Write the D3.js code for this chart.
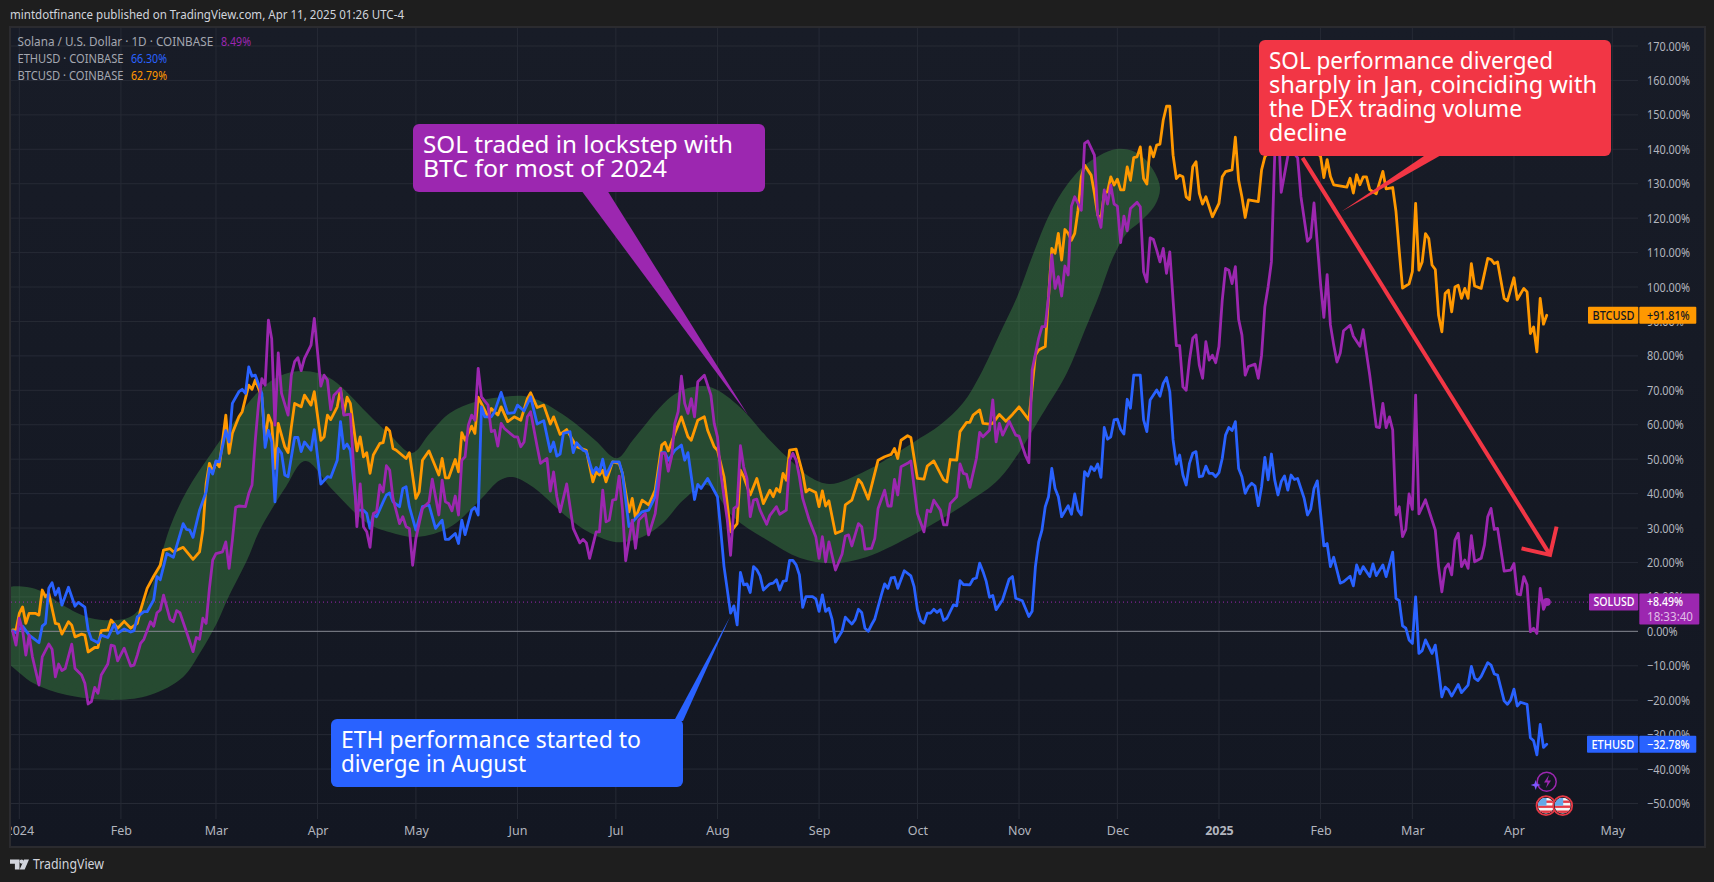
<!DOCTYPE html>
<html>
<head>
<meta charset="utf-8">
<title>SOL vs ETH vs BTC</title>
<script src="https://cdn.jsdelivr.net/npm/d3@7"></script>
<style>
  html, body { margin: 0; padding: 0; background: #1e1e1e; }
  svg { display: block; }
  text { font-family: "Noto Sans", sans-serif; }
</style>
</head>
<body>
<svg id="chart" width="1714" height="882"></svg>
<script>
// Points are [days since 1 Jan 2024, % change]
const btcPoints = [[-2,0.4],[-1,0.4],[0,5.2],[1,7.1],[2,2.3],[3,5.2],[5,5.2],[6,4.7],[7,12],[8,10],[9,11],[11,2.3],[12,2.1],[13,-0.8],[15,2.8],[16,1.8],[17,-1.6],[19,-0.8],[20,-1.1],[21,-6],[23,-4.7],[24,-4.7],[25,0.2],[27,0.4],[28,3.3],[30,0.9],[32,2.9],[34,0.9],[36,2.3],[37,6.2],[39,12.5],[41,16],[43,19.2],[44,23.6],[46,24],[47,23.1],[50,24.4],[53,20.9],[55,23.1],[56,29.4],[57,42.9],[58,48.8],[59,46.3],[60,49.2],[61,47.8],[63,62.8],[64,51.7],[65,57.5],[67,62.3],[68,63.8],[70,71.5],[71,70.3],[72,73],[74,68],[75,55.5],[76,62.8],[77,60.4],[78,47.3],[79,60.4],[81,53.6],[82,51.9],[83,59.4],[84,66.2],[86,65.2],[87,68.6],[89,65.7],[90,69.6],[92,55.5],[93,56.5],[94,62.8],[95,61.5],[97,65.2],[98,70.5],[99,63.3],[100,68],[101,66.2],[103,52.4],[104,56.5],[105,50.7],[106,51.9],[107,45.9],[108,51.2],[110,54.6],[111,54.8],[112,59.2],[113,58.2],[114,53.1],[115,52.6],[118,50.2],[119,51.9],[121,38.6],[122,40.5],[123,49.7],[125,52.4],[128,45.4],[129,50.2],[130,44.6],[131,44.6],[133,49.9],[134,46.3],[135,57.7],[136,55.5],[138,59.6],[139,57.5],[140,68],[143,62.3],[144,64.7],[146,62.8],[147,65.2],[149,60.9],[151,62.3],[153,61.3],[155,67.6],[156,69.3],[158,65],[160,65.7],[162,60.2],[163,62.3],[165,57.2],[167,58.6],[170,53.6],[173,52.6],[175,43.4],[176,46.3],[177,45.4],[178,46.8],[179,43.4],[181,49.2],[183,48.8],[184,45.9],[186,34.7],[187,38.6],[188,32.8],[190,38.1],[192,36.7],[194,41],[196,54.1],[197,54.9],[198,52.4],[200,57.5],[202,62.3],[204,56.5],[205,55.5],[207,61.3],[209,62.3],[210,58.4],[212,53.6],[213,52.6],[215,44.9],[217,28.9],[219,31.3],[220,46.8],[221,44.9],[223,39.6],[225,44.4],[227,37.1],[229,41],[230,39.1],[231,41.5],[232,40.5],[233,45.9],[234,43.9],[235,52.6],[237,52.9],[239,45.9],[240,40.5],[241,41.3],[243,40.3],[244,36.2],[245,40.8],[246,36.4],[247,37.9],[249,28.4],[251,29.2],[252,36.7],[254,38.1],[256,44.1],[257,43],[259,38.4],[262,49.7],[264,50.7],[266,51.4],[267,53.1],[268,50.2],[269,55.5],[271,56.8],[272,56.3],[274,44.4],[276,44.2],[277,48],[279,49.5],[282,44],[283,43.4],[284,49.9],[286,49.7],[287,58],[289,60.7],[290,60.7],[291,62.8],[293,64.3],[294,60.4],[296,60.2],[297,60.4],[299,63],[301,61],[303,63],[305,65.2],[308,61.4],[310,80.2],[311,81.7],[313,82.7],[314,97],[315,111.2],[316,109.8],[317,115.6],[318,107.8],[319,116.7],[320,115.6],[321,113.6],[322,115.6],[323,122.3],[324,132],[325,135.4],[327,132.5],[328,127.2],[329,120.9],[330,120],[331,127.2],[332,127.7],[333,132],[334,129.6],[335,131.3],[336,128.2],[337,128.2],[338,134.9],[339,131],[340,137.6],[341,137.8],[342,140.7],[343,131.5],[344,129.9],[345,140.7],[346,137.8],[347,141.2],[348,141.5],[349,148.5],[350,152.5],[351,152.5],[352,138.3],[353,131.5],[354,132.5],[355,132],[356,126.2],[357,125.4],[358,134.9],[359,136.4],[360,127.2],[361,124.1],[362,126.2],[364,120.4],[366,124.3],[367,132],[368,133.5],[370,134],[371,143.5],[372,131],[373,126.2],[374,120.2],[375,125.3],[378,124.8],[379,134],[380,137.8],[382,140],[385,147],[388,143],[391,143],[394,140],[397,138],[398,131.8],[399,137],[400,132.1],[401,129.7],[405,129],[406,131.6],[407,127.3],[408,132.6],[409,129.7],[410,132],[411,132],[412,128.3],[414,127.1],[416,133.6],[417,128.5],[419,128.9],[420,122],[421,110.4],[422,99.7],[424,100.9],[425,104.5],[426,124.3],[427,104.9],[428,107.3],[429,115.5],[430,114.1],[431,106.4],[432,105.1],[433,91.8],[434,87],[435,98.1],[436,99.1],[437,92.8],[438,100],[439,100.5],[440,96.7],[441,99.6],[442,96.7],[443,106.8],[444,100.3],[446,99.6],[448,108.3],[449,108],[450,106.8],[451,107.3],[453,96.7],[454,96],[456,102.7],[457,96.4],[459,99.6],[460,98.6],[461,86.5],[462,88.4],[463,81.2],[464,96.7],[465,89.2],[466,91.81]];

const ethPoints = [[-2,0.2],[-1,-0.4],[1,1.5],[3,-1.1],[6,-3.3],[7,1.5],[8,2.3],[9,12.5],[10,14.1],[11,10.5],[12,12.5],[13,7.6],[15,12.8],[17,7.3],[18,8.4],[20,7],[21,0.4],[22,-2.3],[24,-3.3],[25,-1.1],[27,-1.8],[29,2.1],[30,-0.6],[32,0.7],[34,-0.2],[35,0.2],[36,4.2],[38,5.7],[39,5.7],[41,9.1],[42,15.9],[43,15],[45,22.6],[47,21.5],[50,31.3],[51,29.6],[52,29.4],[53,27.3],[55,35.2],[57,40.5],[58,47.3],[59,45.7],[60,49.5],[61,49.2],[63,58.3],[64,55],[65,66.2],[67,69.6],[68,70.3],[69,69.1],[70,76.8],[71,74.1],[72,74.4],[74,69.1],[75,53.4],[76,58.4],[77,55],[78,37.6],[79,53.1],[80,51.7],[81,45.4],[82,44.9],[84,56.3],[85,56.3],[86,52.2],[87,55],[89,52.6],[90,58.6],[92,42.8],[94,44.9],[95,44.7],[97,49.7],[98,60.9],[99,53.1],[100,54.4],[101,52.6],[103,35.2],[105,35.2],[106,34.2],[107,29.9],[108,33.8],[109,33.3],[111,37.6],[112,39.6],[113,40.2],[114,37.6],[116,36.2],[117,41.5],[118,42],[119,36.2],[121,29.4],[123,36.2],[125,36.7],[127,29.9],[129,32.3],[130,26.7],[131,26.7],[133,28.4],[134,25.5],[135,32.3],[136,28.1],[138,35.2],[139,36],[140,33.8],[141,65.2],[142,62.3],[144,62.3],[145,63.8],[147,69.4],[149,63.3],[151,63.5],[152,65.7],[154,64],[156,68.1],[158,60.2],[160,61.2],[162,52.2],[163,55],[164,50.9],[165,51.5],[166,57.5],[168,58],[169,51.9],[170,54.8],[172,52.6],[173,52.2],[175,45.9],[176,47.6],[177,46.3],[178,50],[179,45.4],[181,49.2],[183,49.2],[184,45.9],[186,30.4],[188,32.8],[190,34.7],[192,35.2],[194,39.1],[196,51.9],[197,51.9],[198,49.7],[200,52.6],[202,54.1],[203,49.7],[204,51.9],[206,38.3],[207,42.7],[208,41.5],[210,44.4],[213,39.1],[214,29.4],[215,18.8],[217,5.3],[218,7.4],[219,1.9],[220,17.1],[221,13.5],[222,13.8],[223,11.3],[224,18.8],[225,17.9],[226,16.1],[227,12],[229,13.8],[230,14],[231,15],[232,12],[233,14.5],[234,14.7],[235,20.6],[236,20.6],[237,19.3],[238,16.4],[239,7],[240,10.1],[242,10.1],[243,9.4],[244,5.8],[245,10.6],[246,5.8],[247,6.7],[248,3.4],[249,-3.1],[251,0],[252,4.1],[254,2.1],[255,3.4],[256,6.4],[257,5.5],[258,0.9],[259,0],[260,1.9],[261,3.6],[263,10.6],[264,13.8],[265,12.5],[266,15.5],[267,15.7],[268,12.5],[270,17.6],[272,16.1],[273,13],[274,6.3],[275,3.1],[276,2.4],[277,5.3],[278,5.3],[279,6.4],[280,5.5],[281,6.3],[282,3.2],[283,3.8],[285,7.7],[286,7.4],[287,14.7],[288,13.6],[290,13.5],[291,15.2],[292,15.5],[293,19.8],[294,17.4],[295,14.5],[296,9.9],[297,10.4],[298,6.3],[300,9.2],[302,15.2],[303,15.9],[304,9.6],[306,8.9],[308,4.3],[309,5.8],[310,18.8],[311,26],[312,29.4],[313,36.2],[314,39.1],[315,47.3],[316,41.5],[317,39.1],[318,33.3],[320,36.5],[321,34],[322,39.9],[323,35.2],[324,33.8],[325,46.4],[326,45.1],[327,47.8],[328,46.7],[329,48.6],[330,44.7],[331,59.2],[332,55.8],[333,56.5],[334,61.4],[335,61.6],[336,58.7],[337,57.3],[338,67.4],[339,64.8],[340,74.4],[342,74.4],[343,61.4],[344,58],[345,67.2],[347,70.1],[348,68.3],[349,72],[350,73.7],[351,69.6],[352,55.6],[353,48.6],[354,51.2],[355,45.4],[356,42.5],[357,48.8],[358,51.7],[359,52.2],[360,44.9],[361,45.1],[362,48],[363,45.9],[364,45.9],[365,44.9],[366,46.1],[367,50.2],[368,57],[369,59.2],[370,58.3],[371,60.9],[372,47.3],[373,44.9],[374,40.1],[375,42],[376,43],[377,42.2],[378,36.5],[379,42],[380,50.5],[381,44],[382,51.5],[383,44],[384,39.6],[385,43.5],[386,45.1],[387,41],[388,45.4],[389,44.1],[390,44.4],[391,41.5],[392,38.6],[393,33.8],[394,35.5],[395,41.5],[396,43.7],[397,34.3],[398,24.8],[399,25.5],[400,18.8],[401,21.5],[403,14],[404,14.4],[406,16],[407,13.2],[408,19.3],[409,16.7],[410,18.8],[412,15.9],[413,19.6],[414,16.2],[416,19.3],[417,15.9],[419,23],[420,9.6],[421,8.9],[422,1.6],[423,0.9],[424,-2.5],[425,-3.5],[426,10],[427,-6.4],[428,-5.6],[429,-2.5],[431,-6.4],[432,-4],[433,-11.2],[434,-19],[435,-16.2],[436,-17],[437,-18.8],[439,-15.4],[440,-17.8],[442,-15.6],[443,-10.2],[444,-13.6],[445,-14.3],[446,-13.1],[448,-9.1],[449,-9.8],[450,-12.4],[451,-12.7],[453,-20.2],[454,-21.2],[455,-19.9],[456,-16.8],[457,-21.7],[458,-20.6],[460,-21.2],[461,-30.9],[462,-31.8],[463,-35.9],[464,-27],[465,-33.7],[466,-32.78]];

const solPoints = [[-2,-0.1],[-1,-4],[0,3.8],[1,0.4],[2,-6.9],[3,-1.1],[4,-7.4],[6,-15.6],[7,-7.4],[9,-3.7],[10,-5.2],[11,-13.2],[12,-9.5],[13,-11.4],[14,-10.8],[16,-3.7],[17,-10.8],[19,-12.7],[20,-15.1],[21,-21.1],[22,-20.4],[23,-16.3],[24,-18],[25,-12.7],[27,-9.5],[28,-4],[29,-4.3],[30,-8.6],[32,-4.9],[34,-10.1],[35,-9.8],[36,-6.9],[37,-3.5],[38,-2.3],[40,2.8],[41,1.5],[42,5.4],[43,6.2],[44,10.5],[46,3.5],[47,2.8],[48,6],[49,5.4],[51,-0.1],[53,-5.9],[54,-1.8],[55,-2.3],[56,3.8],[57,2.3],[58,12.5],[59,20.7],[60,22.6],[62,23.1],[63,26],[64,18.3],[65,26.5],[66,36],[67,36.4],[69,36.2],[70,40],[71,42.5],[72,55.5],[73,66.2],[74,73.4],[75,71.5],[76,90.4],[77,85],[78,59.9],[79,80.9],[80,69.1],[82,62.8],[83,74.4],[84,78.3],[85,79.5],[86,75.7],[87,79.3],[89,83.1],[90,90.9],[92,71.2],[93,74.4],[94,73],[95,64.4],[96,68.6],[98,70.5],[99,62.8],[101,63.1],[102,47.8],[103,30.4],[104,42.8],[105,30.4],[106,28.9],[107,24.4],[108,34.2],[109,34.7],[110,42.5],[111,40.5],[112,48.1],[113,46.8],[114,38.6],[116,31.3],[117,33.3],[118,30.4],[119,29.9],[120,19.2],[121,27],[123,35.7],[125,37.6],[126,44.2],[128,33.8],[129,43.9],[130,37.6],[131,37.1],[132,35],[133,39.3],[134,33.8],[135,49.7],[136,50.7],[137,59.9],[138,62.8],[139,61.3],[140,76.4],[141,68.1],[143,65.7],[144,58],[145,58.4],[146,53.8],[147,60.4],[148,58.9],[151,56.5],[152,56.5],[153,53.6],[154,55],[155,62.3],[156,63.8],[158,53.6],[159,48.8],[161,50.2],[162,40.7],[163,46.3],[164,39.1],[165,34.7],[167,42.8],[169,29.9],[171,25.7],[172,26.7],[173,25.7],[174,21.2],[176,28.9],[177,28.9],[178,41],[179,31.8],[180,32.3],[181,38.1],[182,38.3],[183,45.1],[184,35.7],[185,20.5],[187,32.3],[188,24.1],[189,32.3],[191,34.2],[192,28],[194,34.2],[195,42],[196,51.7],[197,51.7],[198,46.5],[199,50.7],[200,60.4],[201,63.8],[202,74.1],[203,66.2],[204,63.3],[205,67.6],[206,62.3],[207,72.5],[209,74.4],[211,68.6],[212,60.4],[213,56.5],[214,45.9],[216,32.3],[217,22.1],[218,35.7],[219,36.4],[220,53.9],[221,47.8],[222,44.4],[223,33.3],[224,38.1],[225,38.4],[226,35.2],[228,31.1],[229,33.7],[231,36.2],[232,34],[234,35.2],[235,49.7],[236,51.7],[237,49.7],[238,44.9],[239,38.6],[241,32.3],[243,27.5],[244,21.2],[245,27.5],[246,20.2],[247,26],[249,17.8],[251,22.4],[252,27.7],[253,28],[254,24.8],[256,31.3],[257,30.4],[258,23.9],[260,24.1],[261,27],[262,35.7],[264,41],[265,36.4],[266,36.4],[267,44.1],[268,39.6],[269,47.8],[271,48.8],[272,49.5],[274,34.2],[276,28.9],[277,35.2],[278,34.7],[279,38.1],[281,35.2],[282,30.9],[283,30.9],[284,37.1],[286,39.1],[287,48.6],[288,45.9],[289,45.6],[290,41.8],[292,50.2],[293,57.8],[294,56.5],[296,58.4],[297,67.2],[298,55],[299,60.4],[300,57],[302,61],[304,57],[305,56.7],[307,51],[308,49],[309,75.9],[311,85.1],[312,88.5],[313,88.5],[314,97.2],[315,109.3],[316,99.6],[317,103],[318,97.4],[319,106.1],[320,103.5],[321,123.5],[322,126.2],[324,122.3],[325,141.7],[326,142.4],[328,138.3],[329,120.9],[330,117.3],[331,128.2],[332,124.1],[333,129.6],[334,124.1],[335,123.5],[336,112.9],[337,120.6],[338,116.3],[339,122.8],[341,124.6],[342,123.3],[343,104.4],[344,101.5],[345,114.3],[346,113.8],[347,110.7],[348,107.3],[349,111.2],[350,104],[351,110.2],[352,96.2],[353,83],[354,83],[355,71],[356,70],[357,78.8],[358,85.1],[359,86.1],[360,77.3],[361,73.5],[362,84.1],[363,78.8],[364,80.2],[365,78],[366,82.7],[367,96.2],[368,105.4],[369,104.9],[370,101],[371,105.9],[372,90.6],[373,86.1],[374,74.4],[375,76.9],[377,77.6],[378,73.5],[379,80.2],[380,94.3],[381,100.1],[382,107.3],[383,138],[384,150],[385,127.5],[387,138],[388,140],[390,137.5],[391,126.3],[393,113.3],[394,114.4],[395,124.4],[397,100.7],[398,91.2],[399,103.6],[400,89],[401,83.2],[402,78.2],[403,80.8],[404,87.3],[406,88.9],[407,85.7],[409,82.8],[410,87.6],[411,80.8],[412,74.4],[414,59.4],[415,59.2],[416,66.2],[417,59.2],[418,62.3],[419,58.5],[420,33.8],[421,36.2],[422,27.5],[423,29.6],[424,39.9],[425,35.4],[426,68.6],[427,34.1],[429,38.2],[432,29.4],[433,18.8],[434,11.5],[435,18.3],[436,19.6],[437,16.4],[438,26.5],[439,28.5],[440,18.8],[441,20.7],[442,18.3],[443,27.8],[444,20.2],[446,21.2],[447,25.1],[448,33.3],[449,35.7],[450,29.6],[451,29.9],[453,17.5],[455,17.8],[456,19.7],[457,10.8],[458,10.6],[459,15.9],[460,13.5],[461,-0.1],[462,0.9],[463,-0.6],[464,12.5],[465,6.4],[466,8.49]];

// outline of the green brush stroke, same units as the series: top edge left to right, then bottom edge back
const brushTopEdge = [[-4.4,12],[2.3,12.9],[7.2,11.4],[13.3,7.6],[21.6,3.9],[29.8,3.3],[34.7,4.7],[39,10],[42,17.8],[46,30.3],[51.2,41],[58.2,51.2],[65.2,60.5],[73.4,70.1],[79.5,74.2],[85.6,75.6],[91.1,75],[95.7,73],[100.9,68.6],[106.1,63.4],[113.1,57],[119.8,51.8],[125.3,57.6],[131.4,63.4],[139,66.6],[146.6,68],[155.8,68],[167.1,62.2],[175.6,55.6],[182.3,50.3],[187.2,55.6],[195.5,65.1],[200,68.9],[205.5,71],[211.6,70.7],[219.9,65.1],[228.1,56.4],[234.2,50.6],[241.2,44.8],[247.3,42.8],[258.6,46.8],[273.9,55.6],[280.9,59.9],[287.9,66.3],[293.1,74.4],[299.2,86.6],[304.4,97.1],[309.2,109.3],[314.5,121.5],[319.6,129.6],[324.5,134.9],[329.7,138.3],[334.9,140.1],[340.4,139.2],[345,135.4],[348,129],[346.5,123.8],[341.9,118.9],[337.9,115.7]];
const brushBottomEdge = [[333.6,108.4],[329.7,98.3],[325.1,87.5],[319.6,75],[312.9,64.3],[299.2,44.5],[289.1,37.3],[273.9,28.6],[258.6,21.6],[248.2,19.8],[238.2,21.3],[228.1,26.5],[217.8,33.2],[209.8,42.5],[202.5,38.1],[196.4,31.5],[189.3,27.1],[182.3,25.9],[174.1,28.6],[167.1,33.2],[156.7,41.9],[150.6,44.8],[146.6,43.9],[140.5,38.1],[131.4,30.3],[121.3,27.4],[113.1,28.8],[106.1,31.5],[95.7,41],[87.2,49.5],[81.1,41.6],[73.4,29.4],[69.5,20.7],[63.4,9.1],[60.3,2.4],[55.1,-6.3],[49.9,-13.3],[39.9,-18.5],[29.8,-19.9],[14.5,-18.5],[4.2,-15],[-2.8,-9.8],[-4.4,-8.9]];

const yTicks = [170,160,150,140,130,120,110,100,90,80,70,60,50,40,30,20,10,0,-10,-20,-30,-40,-50];
const monthTicks = ["2024-01-01","2024-02-01","2024-03-01","2024-04-01","2024-05-01","2024-06-01","2024-07-01","2024-08-01","2024-09-01","2024-10-01","2024-11-01","2024-12-01","2025-01-01","2025-02-01","2025-03-01","2025-04-01","2025-05-01"];
const monthLabels = ["2024","Feb","Mar","Apr","May","Jun","Jul","Aug","Sep","Oct","Nov","Dec","2025","Feb","Mar","Apr","May"];

const legendRows = [
  {label: "Solana / U.S. Dollar · 1D · COINBASE", value: "8.49%", color: "#9c27b0", valueX: 221, labelW: 195.7, valueW: 30},
  {label: "ETHUSD · COINBASE", value: "66.30%", color: "#2962ff", valueX: 131, labelW: 106, valueW: 36},
  {label: "BTCUSD · COINBASE", value: "62.79%", color: "#ff9800", valueX: 131, labelW: 106, valueW: 36}
];

const calloutRows = [
  {color: "#9c27b0", x: 413, top: 124, w: 352, h: 68, lines: ["SOL traded in lockstep with", "BTC for most of 2024"], widths: [310,244], tip: [222.3,62.8], base: [581,607]},
  {color: "#2962ff", x: 331, top: 719, w: 352, h: 68, lines: ["ETH performance started to", "diverge in August"], widths: [300,185], tip: [216.8,4.2], base: [674,683]},
  {color: "#f23645", x: 1259, top: 40, w: 352, h: 116, lines: ["SOL performance diverged", "sharply in Jan, coinciding with", "the DEX trading volume", "decline"], widths: [284,328,253,78], tip: [403.4,121.9], base: [1427,1443]}
];

const arrowShaft = [[391.5,137.5],[467,22.2]];
const arrowHead = [[458.3,24.1],[467,22.2],[469,30.4]];

const svg = d3.select("#chart");
const defs = svg.append("defs");

const plotLeft = 11, plotRight = 1638, plotTop = 28, gridBottom = 819;

const x = d3.scaleUtc().domain([new Date("2024-01-01"), new Date("2025-05-01")]).range([19.3, 1612.3]);
const y = d3.scaleLinear().domain([170,-50]).range([46, 803.5]);
const dayToDate = d => new Date(Date.UTC(2024, 0, 1) + d * 86400000);
const xDay = d => x(dayToDate(d));

// squeeze a text to a set width: Noto runs wider than the original face
function fitWidth(sel, w) {
  return sel.attr("textLength", w).attr("lengthAdjust", "spacingAndGlyphs");
}

const bgGrad = defs.append("linearGradient").attr("id", "bg").attr("x1", 0).attr("y1", 0).attr("x2", 0).attr("y2", 1);
bgGrad.append("stop").attr("offset", "0%").attr("stop-color", "#181c27");
bgGrad.append("stop").attr("offset", "100%").attr("stop-color", "#131722");

defs.append("clipPath").attr("id", "plotClip").append("rect")
  .attr("x", plotLeft).attr("y", plotTop).attr("width", plotRight - plotLeft).attr("height", 818);

// frame and panel
svg.append("rect").attr("x", 10).attr("y", 27).attr("width", 1695).attr("height", 820)
  .attr("fill", "url(#bg)").attr("stroke", "#2b2b2f").attr("stroke-width", 2);

// grid
svg.append("g").selectAll("line").data(yTicks).join("line")
  .attr("x1", plotLeft).attr("x2", plotRight).attr("y1", d => y(d)).attr("y2", d => y(d))
  .attr("stroke", "#262a35").attr("stroke-width", 1);
svg.append("g").selectAll("line").data(monthTicks).join("line")
  .attr("x1", d => x(new Date(d))).attr("x2", d => x(new Date(d)))
  .attr("y1", plotTop).attr("y2", gridBottom)
  .attr("stroke", "#262a35").attr("stroke-width", 1);

const plot = svg.append("g").attr("clip-path", "url(#plotClip)");

// brush stroke goes under everything else
const brushLine = d3.line().x(d => xDay(d[0])).y(d => y(d[1])).curve(d3.curveCatmullRomClosed.alpha(0.5));
plot.append("path").attr("d", brushLine(brushTopEdge.concat(brushBottomEdge)))
  .attr("fill", "rgb(76,175,80)").attr("fill-opacity", 0.33);

// zero line and last price line
plot.append("line").attr("x1", plotLeft).attr("x2", plotRight).attr("y1", y(0)).attr("y2", y(0))
  .attr("stroke", "#82858e").attr("stroke-width", 1);
plot.append("line").attr("x1", plotLeft).attr("x2", plotRight).attr("y1", y(8.49)).attr("y2", y(8.49))
  .attr("stroke", "#9c27b0").attr("stroke-width", 1).attr("stroke-dasharray", "1 3");

// series
const seriesLine = d3.line().x(d => xDay(d[0])).y(d => y(d[1]));
[[btcPoints, "#ff9800"], [ethPoints, "#2962ff"], [solPoints, "#9c27b0"]].forEach(function (s) {
  plot.append("path").datum(s[0]).attr("d", seriesLine)
    .attr("fill", "none").attr("stroke", s[1]).attr("stroke-width", 2.8)
    .attr("stroke-linejoin", "round").attr("stroke-linecap", "round");
});
plot.append("circle").attr("cx", xDay(466)).attr("cy", y(8.49)).attr("r", 4).attr("fill", "#9c27b0");

// red arrow
const arrowLine = d3.line().x(d => xDay(d[0])).y(d => y(d[1]));
plot.append("path").attr("d", arrowLine(arrowShaft)).attr("fill", "none").attr("stroke", "#f23645").attr("stroke-width", 4);
plot.append("path").attr("d", arrowLine(arrowHead)).attr("fill", "none").attr("stroke", "#f23645").attr("stroke-width", 4).attr("stroke-linejoin", "miter");

// callouts
calloutRows.forEach(function (c) {
  const g = svg.append("g");
  const tipY = y(c.tip[1]);
  const yEdge = tipY > c.top ? c.top + c.h - 2 : c.top + 2;
  g.append("polygon")
    .attr("points", [[xDay(c.tip[0]), tipY], [c.base[0], yEdge], [c.base[1], yEdge]].join(" "))
    .attr("fill", c.color);
  g.append("rect").attr("x", c.x).attr("y", c.top).attr("width", c.w).attr("height", c.h)
    .attr("rx", 6).attr("fill", c.color);
  c.lines.forEach(function (t, i) {
    const line = g.append("text").attr("x", c.x + 10).attr("y", c.top + 28.5 + i * 24)
      .attr("fill", "#fff").attr("font-size", 23.5).text(t);
    fitWidth(line, c.widths[i]);
  });
});

// price axis
const yAxis = d3.axisRight(y).tickValues(yTicks).tickSize(0).tickPadding(0)
  .tickFormat(d => (d < 0 ? "\u2212" + Math.abs(d) : d) + ".00%");
const yAxisG = svg.append("g").attr("transform", "translate(1647,0)").call(yAxis);
yAxisG.select(".domain").remove();
yAxisG.selectAll("text").attr("fill", "#b2b5be").attr("font-size", 12.5)
  .style("font-family", '"Noto Sans", sans-serif')
  .each(function () { fitWidth(d3.select(this), this.getComputedTextLength() * 0.87); });

// time axis
const xAxis = d3.axisBottom(x).tickValues(monthTicks.map(d => new Date(d))).tickSize(0).tickPadding(0)
  .tickFormat((d, i) => monthLabels[i]);
defs.append("clipPath").attr("id", "axisClip").append("rect")
  .attr("x", plotLeft).attr("y", 0).attr("width", 1680).attr("height", 26);
const xAxisG = svg.append("g").attr("transform", "translate(0,826)").attr("clip-path", "url(#axisClip)").call(xAxis);
xAxisG.select(".domain").remove();
xAxisG.selectAll("text").attr("fill", "#b2b5be").attr("font-size", 12.5)
  .attr("font-weight", (d, i) => monthLabels[i] === "2025" ? 700 : 400)
  .style("font-family", '"Noto Sans", sans-serif');

// price tags
const tagRows = [
  {name: "BTCUSD", value: "+91.81%", pct: 91.81, color: "#ff9800", ink: "#131722", nameX: 1588, boxW: 57, nameW: 42, valueW: 42.7},
  {name: "SOLUSD", value: "+8.49%", pct: 8.49, color: "#9c27b0", ink: "#ffffff", nameX: 1589, boxW: 60, nameW: 41, valueW: 36, extra: "18:33:40"},
  {name: "ETHUSD", value: "\u221232.78%", pct: -32.78, color: "#2962ff", ink: "#ffffff", nameX: 1587, boxW: 57, nameW: 42.7, valueW: 42.7}
];
tagRows.forEach(function (t) {
  const cy = y(t.pct);
  const g = svg.append("g");
  g.append("rect").attr("x", t.nameX).attr("y", cy - 8.5).attr("width", 1638.3 - t.nameX).attr("height", 17).attr("rx", 1).attr("fill", t.color);
  g.append("rect").attr("x", 1639.3).attr("y", cy - 8.5).attr("width", t.boxW).attr("height", t.extra ? 31 : 17).attr("rx", 1).attr("fill", t.color);
  fitWidth(g.append("text").attr("x", t.nameX + 4.5).attr("y", cy).attr("dy", "0.35em").attr("fill", t.ink).attr("font-size", 12.5).attr("font-weight", 500).text(t.name), t.nameW);
  fitWidth(g.append("text").attr("x", 1647).attr("y", cy).attr("dy", "0.35em").attr("fill", t.ink).attr("font-size", 12.5).attr("font-weight", 500).text(t.value), t.valueW);
  if (t.extra) {
    fitWidth(g.append("text").attr("x", 1647).attr("y", cy + 15).attr("dy", "0.35em").attr("fill", "#e1bee7").attr("font-size", 12.5).text(t.extra), 46);
  }
});

// legend
legendRows.forEach(function (r, i) {
  fitWidth(svg.append("text").attr("x", 17.5).attr("y", 41.7 + i * 17).attr("dy", "0.35em")
    .attr("fill", "#a4a7b0").attr("font-size", 12).text(r.label), r.labelW);
  fitWidth(svg.append("text").attr("x", r.valueX).attr("y", 41.7 + i * 17).attr("dy", "0.35em")
    .attr("fill", r.color).attr("font-size", 12).text(r.value), r.valueW);
});

// header and footer
fitWidth(svg.append("text").attr("x", 10).attr("y", 15).attr("dy", "0.35em")
  .attr("fill", "#d1d4dc").attr("font-size", 12.8)
  .text("mintdotfinance published on TradingView.com, Apr 11, 2025 01:26 UTC-4"), 394);
svg.append("path").attr("fill", "#d1d4dc").attr("d", "M10 859.5h9.5v10h-4.6v-5.8H10z M29 859.5l-4.3 10h-5l4.3-10z");
svg.append("circle").attr("cx", 21.6).attr("cy", 861.6).attr("r", 2.1).attr("fill", "#d1d4dc");
fitWidth(svg.append("text").attr("x", 33).attr("y", 864).attr("dy", "0.35em")
  .attr("fill", "#d1d4dc").attr("font-size", 14).text("TradingView"), 71);

// event badges near the time axis
const badges = svg.append("g");
badges.append("circle").attr("cx", 1546.7).attr("cy", 781.7).attr("r", 9.5).attr("fill", "#131722").attr("stroke", "#9c27b0").attr("stroke-width", 1.5);
badges.append("path").attr("d", "M1549 775l-5 7.5h3.5l-1.5 5.5 5-7.5h-3.5z").attr("fill", "#9c27b0");
badges.append("path").attr("d", "M1535.7 780l1.3 3.7 3.7 1.3-3.7 1.3-1.3 3.7-1.3-3.7-3.7-1.3 3.7-1.3z").attr("fill", "#7e57ff");
[1546, 1562.7].forEach(function (cx, i) {
  const id = "flag" + i;
  defs.append("clipPath").attr("id", id).append("circle").attr("cx", cx).attr("cy", 805.7).attr("r", 8);
  const f = badges.append("g");
  f.append("circle").attr("cx", cx).attr("cy", 805.7).attr("r", 9.5).attr("fill", "#131722").attr("stroke", "#e53945").attr("stroke-width", 1.8);
  const inner = f.append("g").attr("clip-path", "url(#" + id + ")");
  inner.append("rect").attr("x", cx - 8).attr("y", 797.7).attr("width", 16).attr("height", 16).attr("fill", "#f5f5f5");
  [800.5, 805.5, 810.5].forEach(function (sy) {
    inner.append("rect").attr("x", cx - 8).attr("y", sy).attr("width", 16).attr("height", 2.4).attr("fill", "#e53945");
  });
  inner.append("rect").attr("x", cx - 8).attr("y", 797.7).attr("width", 8.5).attr("height", 8).attr("fill", "#64a8e8");
});
</script>
</body>
</html>
